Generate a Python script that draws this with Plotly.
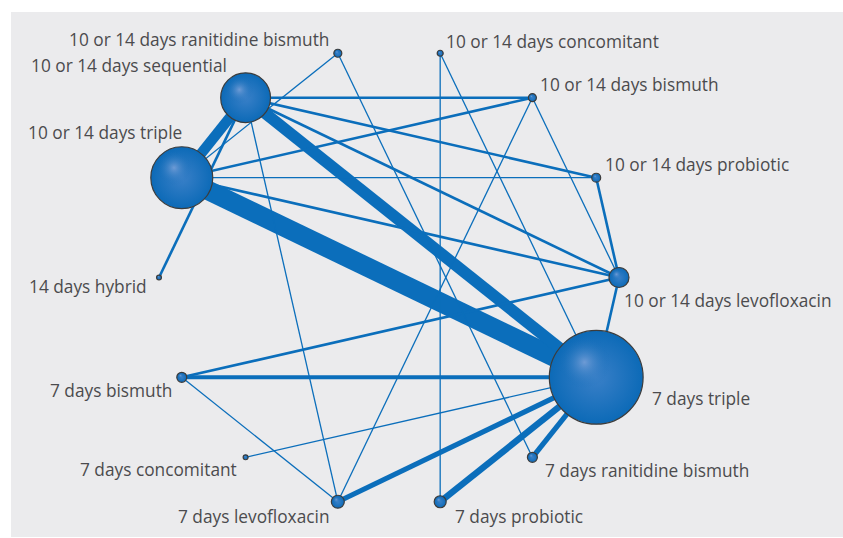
import numpy as np
import plotly.graph_objects as go

# ---------------- data ----------------
treatments = [
    "10 or 14 days levofloxacin",
    "10 or 14 days probiotic",
    "10 or 14 days bismuth",
    "10 or 14 days concomitant",
    "10 or 14 days ranitidine bismuth",
    "10 or 14 days sequential",
    "10 or 14 days triple",
    "14 days hybrid",
    "7 days bismuth",
    "7 days concomitant",
    "7 days levofloxacin",
    "7 days probiotic",
    "7 days ranitidine bismuth",
    "7 days triple",
]
# relative number of patients per treatment (node area)
patients = [500, 100, 80, 45, 80, 3100, 4800, 30, 125, 30, 210, 180, 125, 11000]

# comparisons (edges) and number of trials (edge thickness)
edge_from = [
    "10 or 14 days triple", "10 or 14 days sequential", "10 or 14 days triple",
    "7 days probiotic", "7 days levofloxacin", "7 days ranitidine bismuth",
    "7 days bismuth", "10 or 14 days sequential", "10 or 14 days sequential",
    "10 or 14 days sequential", "10 or 14 days triple", "10 or 14 days triple",
    "10 or 14 days probiotic", "10 or 14 days levofloxacin", "7 days bismuth",
    "10 or 14 days sequential", "10 or 14 days triple",
    "10 or 14 days ranitidine bismuth", "10 or 14 days ranitidine bismuth",
    "10 or 14 days concomitant", "10 or 14 days concomitant",
    "10 or 14 days bismuth", "10 or 14 days bismuth", "7 days bismuth",
    "7 days concomitant", "10 or 14 days sequential",
]
edge_to = [
    "7 days triple", "7 days triple", "10 or 14 days sequential",
    "7 days triple", "7 days triple", "7 days triple",
    "7 days triple", "14 days hybrid", "10 or 14 days probiotic",
    "10 or 14 days levofloxacin", "10 or 14 days levofloxacin", "10 or 14 days bismuth",
    "10 or 14 days levofloxacin", "7 days triple", "10 or 14 days levofloxacin",
    "10 or 14 days bismuth", "10 or 14 days probiotic",
    "10 or 14 days triple", "7 days ranitidine bismuth",
    "7 days probiotic", "7 days triple",
    "7 days levofloxacin", "10 or 14 days levofloxacin", "7 days levofloxacin",
    "7 days triple", "7 days levofloxacin",
]
n_trials = [15, 9, 8, 5, 4, 4, 3, 2, 2, 2, 2, 2, 2, 2, 2, 2, 1,
            1, 1, 1, 1, 1, 1, 1, 1, 1]

# ---------------- layout helpers (circular network layout) ----------------
n = len(treatments)
ang = np.arange(n) * 2 * np.pi / n
pos = {t: (np.cos(a), np.sin(a)) for t, a in zip(treatments, ang)}

PX = 230.0                      # pixels per layout unit
LINE_COL = "#0b6ebb"
NODE_COL = "#0c6ab7"
TEXT_COL = "#4b4b4e"

fig = go.Figure()

# edges
for a, b, w in zip(edge_from, edge_to, n_trials):
    xa, ya = pos[a]
    xb, yb = pos[b]
    fig.add_trace(go.Scatter(
        x=[xa, xb], y=[ya, yb], mode="lines",
        line=dict(color=LINE_COL, width=1.3 * w),
        hoverinfo="skip", showlegend=False))

# nodes
diam = [2 * np.sqrt(p / 5.0) for p in patients]
xs = [pos[t][0] for t in treatments]
ys = [pos[t][1] for t in treatments]
fig.add_trace(go.Scatter(
    x=xs, y=ys, mode="markers", text=treatments, hoverinfo="text",
    marker=dict(size=diam, color=NODE_COL,
                gradient=dict(type="radial", color="#3a80c8"),
                line=dict(color="#3c3c3c", width=1.2), opacity=1),
    showlegend=False))

# sphere highlight (offset toward upper-left, kept inside the sphere)
hx = [x - 0.25 * (d / 2) / PX for x, d in zip(xs, diam)]
hy = [y + 0.32 * (d / 2) / PX for y, d in zip(ys, diam)]
fig.add_trace(go.Scatter(
    x=hx, y=hy, mode="markers", hoverinfo="skip",
    marker=dict(size=[d * 0.56 for d in diam], color="rgba(12,106,183,0)",
                gradient=dict(type="radial", color="rgba(140,170,222,1)"),
                line=dict(width=0)),
    showlegend=False))

# labels: (xanchor, xshift px, yshift px)
label_style = {
    "10 or 14 days levofloxacin": ("left", 3, -23),
    "10 or 14 days probiotic": ("left", 7, 13),
    "10 or 14 days bismuth": ("left", 6, 13),
    "10 or 14 days concomitant": ("left", 4, 12),
    "10 or 14 days ranitidine bismuth": ("right", -7, 14),
    "10 or 14 days sequential": ("right", -17, 32),
    "10 or 14 days triple": ("right", 2, 45),
    "14 days hybrid": ("right", -10, -9),
    "7 days bismuth": ("right", -8, -13),
    "7 days concomitant": ("right", -7, -12),
    "7 days levofloxacin": ("right", -7, -15),
    "7 days probiotic": ("left", 13, -15),
    "7 days ranitidine bismuth": ("left", 11, -13),
    "7 days triple": ("left", 54, -21),
}
for t in treatments:
    xa, xsft, ysft = label_style[t]
    fig.add_annotation(
        x=pos[t][0], y=pos[t][1], text=t, showarrow=False,
        xanchor=xa, yanchor="middle", xshift=xsft, yshift=ysft,
        font=dict(family="Open Sans", size=17.3, color=TEXT_COL))

W, H = 843, 538
ml, mr, mt, mb = 11, 0, 12, 1
cx, cy = 389.0, 277.5
x0 = (ml - cx) / PX
x1 = (W - mr - cx) / PX
y1 = (cy - mt) / PX
y0 = (cy - (H - mb)) / PX

fig.update_layout(
    width=W, height=H,
    margin=dict(l=ml, r=mr, t=mt, b=mb, pad=0),
    paper_bgcolor="white", plot_bgcolor="#ebebed",
    xaxis=dict(range=[x0, x1], visible=False, fixedrange=True),
    yaxis=dict(range=[y0, y1], visible=False, fixedrange=True),
    showlegend=False,
)

fig.write_html("out.html",
               config={"displayModeBar": False},
               post_script="document.body.style.margin='0';"
                           "document.body.style.overflow='hidden';")
